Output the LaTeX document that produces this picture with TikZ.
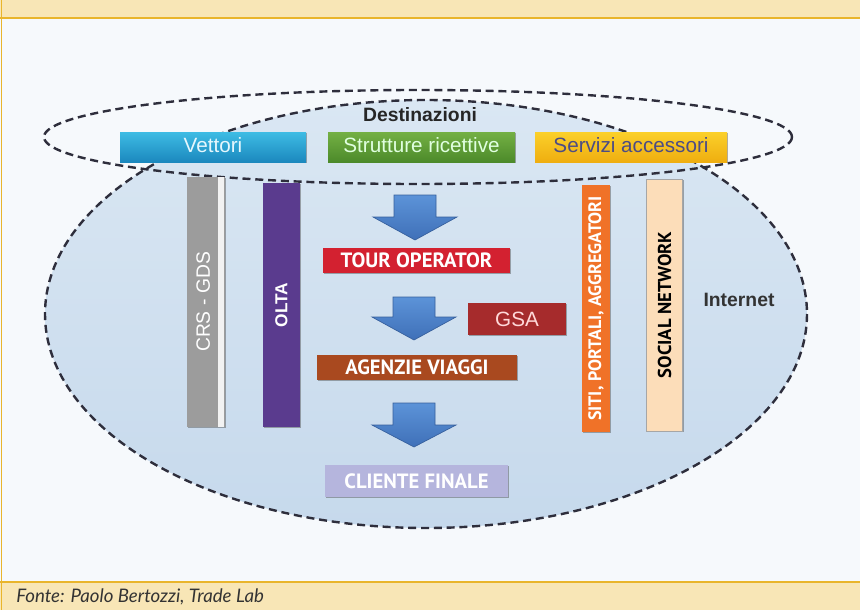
\documentclass[tikz,border=0pt]{standalone}
\usepackage{fontspec}
\setmainfont{Liberation Sans}
\newfontfamily\capsfont{PT Sans}
\newfontfamily\footfont{Lato}
\usetikzlibrary{shadows}
\definecolor{bandY}{HTML}{F8E6B6}
\definecolor{bandO}{HTML}{E9B52C}
\definecolor{panel}{HTML}{F6F9FC}
\definecolor{ellTop}{HTML}{DAE7F3}
\definecolor{ellBot}{HTML}{C6D9EC}
\definecolor{dashC}{HTML}{2E2E3C}
\definecolor{vetA}{HTML}{3EBCE4}
\definecolor{vetB}{HTML}{1B88BE}
\definecolor{strA}{HTML}{74B044}
\definecolor{strB}{HTML}{4C8A2A}
\definecolor{serA}{HTML}{FBD02A}
\definecolor{serB}{HTML}{EFAE10}
\definecolor{crsC}{HTML}{9C9C9C}
\definecolor{oltaC}{HTML}{5A3B8E}
\definecolor{tourC}{HTML}{D32130}
\definecolor{gsaC}{HTML}{A62B2C}
\definecolor{ageC}{HTML}{A9491F}
\definecolor{cliC}{HTML}{B5B5DD}
\definecolor{sitiC}{HTML}{F07228}
\definecolor{socC}{HTML}{FCDDB9}
\definecolor{arrA}{HTML}{5C93D8}
\definecolor{arrB}{HTML}{3F70B8}
\tikzset{
  dashedell/.style={draw=dashC, line width=1.8pt, dash pattern=on 6pt off 3.6pt},
  boxbase/.style={inner sep=0pt, drop shadow={shadow xshift=0.9pt, shadow yshift=-0.9pt, opacity=0.45, fill=black!70}},
  topbox/.style={boxbase, text height=11pt, text depth=3pt, font=\fontsize{15.5}{18}\selectfont, minimum height=22.5pt},
  capbox/.style={boxbase, text=white, font=\capsfont\bfseries\fontsize{15.5}{18}\selectfont, minimum height=18.75pt},
  barbox/.style={boxbase},
  bartext/.style={rotate=90, inner sep=0pt},
  blockarrow/.style={top color=arrA, bottom color=arrB, draw=arrB!85!black, line width=0.5pt},
}
\begin{document}
\begin{tikzpicture}[x=0.75pt,y=-0.75pt]
\useasboundingbox (0,0) rectangle (860,610);
% frame
\fill[panel] (0,0) rectangle (860,610);
\fill[bandY] (0,0) rectangle (860,18);
\fill[bandY] (0,582) rectangle (860,610);
\draw[bandO, line width=1.2pt] (0,18) -- (860,18);
\draw[bandO, line width=1.2pt] (0,582) -- (860,582);
\draw[bandO, line width=1.2pt] (1.5,0) -- (1.5,610);
\node[anchor=west, inner sep=0pt, text=black!80, font=\footfont\itshape\fontsize{14}{16}\selectfont] (fonte) at (16,597) {Fonte: Paolo Bertozzi, Trade Lab};
% internet ellipse
\shade[top color=ellTop, bottom color=ellBot] (426,314) ellipse [x radius=381, y radius=214];
\draw[dashedell] (418,137) ellipse [x radius=374, y radius=47];
\draw[dashedell] (426,314) ellipse [x radius=381, y radius=214];
\node[font=\bfseries\fontsize{14.5}{16}\selectfont, text=black!85] (dest) at (420,115) {Destinazioni};
\node[font=\bfseries\fontsize{14.5}{16}\selectfont, text=black!80] (internet) at (739,300) {Internet};
% top boxes
\node[topbox, top color=vetA, bottom color=vetB, text=white!90!cyan, minimum width=139.5pt] (vettori) at (213,147) {Vettori};
\node[topbox, top color=strA, bottom color=strB, text=white!88!green, minimum width=140.25pt] (strutture) at (421.5,147) {Strutture ricettive};
\node[topbox, top color=serA, bottom color=serB, text=black!45!blue!40!gray, minimum width=144pt] (servizi) at (631,147) {Servizi accessori};
% vertical bars
\node[barbox, fill=crsC, minimum width=28.5pt, minimum height=187.5pt] (crs) at (206,302) {};
\fill[white!90!gray] ([xshift=-5.5pt]crs.north east) rectangle ([xshift=-1pt]crs.south east);
\node[bartext, text=white, font=\fontsize{14.5}{16}\selectfont] (crst) at ([xshift=-2pt]crs.center) {CRS - GDS};
\node[barbox, fill=oltaC, minimum width=27.75pt, minimum height=183pt] (olta) at (281.5,305) {};
\node[bartext, text=white, font=\bfseries\fontsize{13}{15}\selectfont] (oltat) at (olta.center) {OLTA};
\node[barbox, fill=sitiC, minimum width=21pt, minimum height=185.25pt] (siti) at (596,308.5) {};
\node[bartext, text=white, font=\capsfont\bfseries\fontsize{13.5}{15}\selectfont] (sitit) at (siti.center) {SITI, PORTALI, AGGREGATORI};
\node[barbox, fill=socC, draw=black!35, line width=0.5pt, minimum width=27pt, minimum height=189pt] (social) at (664.5,305) {};
\node[bartext, text=black, font=\capsfont\bfseries\fontsize{14}{16}\selectfont] (socialt) at (social.center) {SOCIAL NETWORK};
% central chain
\node[capbox, fill=tourC, minimum width=140.25pt] (tour) at (416.5,260.5) {TOUR OPERATOR};
\node[boxbase, fill=gsaC, text=white!85!red, font=\fontsize{15.5}{18}\selectfont, minimum width=73.5pt, minimum height=24pt] (gsa) at (517,319) {GSA};
\node[capbox, fill=ageC, minimum width=150pt] (agenzie) at (417,367.5) {AGENZIE VIAGGI};
\node[capbox, fill=cliC, minimum width=137.25pt, minimum height=24pt] (cliente) at (416.5,481) {CLIENTE FINALE};
% block arrows
\draw[blockarrow] (394,195) -- (436,195) -- (436,217) -- (457,217) -- (415,240) -- (373,217) -- (394,217) -- cycle;
\draw[blockarrow] (393,297) -- (435,297) -- (435,317) -- (456,317) -- (414,340) -- (372,317) -- (393,317) -- cycle;
\draw[blockarrow] (393,403) -- (435,403) -- (435,425) -- (456,425) -- (414,447) -- (372,425) -- (393,425) -- cycle;
\end{tikzpicture}
\end{document}
